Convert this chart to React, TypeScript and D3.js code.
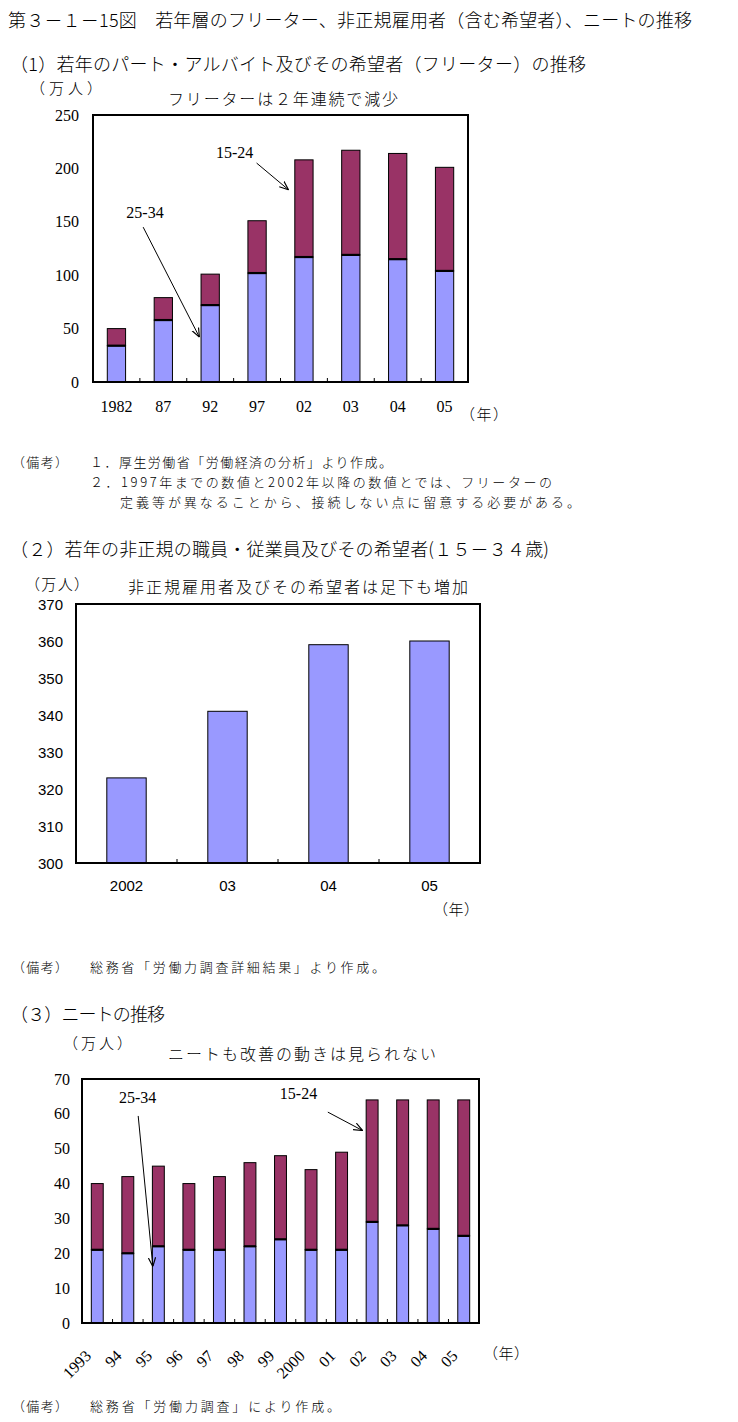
import React from "react";
import * as d3 from "d3";

const FONT_JP = "'Noto Sans CJK JP', 'Noto Sans', sans-serif";
const FONT_SERIF = "'Liberation Serif', 'DejaVu Serif', serif";
const FONT_SANS = "'Liberation Sans', 'DejaVu Sans', sans-serif";
const BLUE = "#9999FF";
const PURPLE = "#993366";

// (1) Freeter
const freeterYears = ["1982", "87", "92", "97", "02", "03", "04", "05"];
const freeterLower = [34, 58, 72, 102, 117, 119, 115, 104];
const freeterUpper = [16, 21, 29, 49, 91, 98, 99, 97];
const freeterTicks = [0, 50, 100, 150, 200, 250];

// (2) Non-regular
const nonRegYears = ["2002", "03", "04", "05"];
const nonRegValues = [323, 341, 359, 360];
const nonRegTicks = [300, 310, 320, 330, 340, 350, 360, 370];

// (3) NEET
const neetYears = ["1993", "94", "95", "96", "97", "98", "99", "2000", "01", "02", "03", "04", "05"];
const neetLower = [21, 20, 22, 21, 21, 22, 24, 21, 21, 29, 28, 27, 25];
const neetUpper = [19, 22, 23, 19, 21, 24, 24, 23, 28, 35, 36, 37, 39];
const neetTicks = [0, 10, 20, 30, 40, 50, 60, 70];

// annotations in data units (t = position in category steps, v = value)
const freeterNotes = [
  { label: "15-24", lt: 3.02, lv: 215, ft: 3.49, fv: 205, tt: 4.17, tv: 180 },
  { label: "25-34", lt: 1.11, lv: 159, ft: 1.07, fv: 145, tt: 2.27, tv: 42 },
];
const neetNotes = [
  { label: "25-34", lt: 1.82, lv: 64.7, ft: 1.84, fv: 59.4, tt: 2.32, tv: 16.2 },
  { label: "15-24", lt: 7.09, lv: 65.7, ft: 8.05, fv: 60.5, tt: 9.19, tv: 55.2 },
];

type Note = { label: string; lt: number; lv: number; ft: number; fv: number; tt: number; tv: number };

function Chart(props: {
  left: number; right: number; top: number; bottom: number;
  cats: string[]; lower: number[]; upper?: number[];
  domain: [number, number]; ticks: number[];
  tickFont: string; tickSize: number; labelGap: number;
  catY: number; rotate?: boolean; notes?: Note[];
}) {
  const { left, right, top, bottom, cats, lower, upper, domain, ticks, tickFont, tickSize, labelGap, catY, rotate, notes } = props;
  const x = d3.scaleBand<string>().domain(cats).range([left, right]).paddingInner(0.61).paddingOuter(0.305);
  const y = d3.scaleLinear().domain(domain).range([bottom, top]);
  const step = x.step();
  const tx = (t: number) => left + step * t;
  const base = domain[0];
  return (
    <g>
      {cats.map((c, i) => {
        const x0 = x(c)!;
        const w = x.bandwidth();
        const l = lower[i];
        const u = upper ? upper[i] : 0;
        return (
          <g key={c}>
            <rect x={x0} y={y(l)} width={w} height={y(base) - y(l)} fill={BLUE} stroke="#000" strokeWidth={1} />
            {upper && (
              <>
                <rect x={x0} y={y(l + u)} width={w} height={y(l) - y(l + u)} fill={PURPLE} stroke="#000" strokeWidth={1} />
                <line x1={x0} x2={x0 + w} y1={y(l)} y2={y(l)} stroke="#000" strokeWidth={2.2} />
              </>
            )}
          </g>
        );
      })}
      {d3.range(1, cats.length).map((i) => (
        <line key={"t" + i} x1={tx(i)} x2={tx(i)} y1={bottom} y2={bottom - 4} stroke="#000" strokeWidth={1} />
      ))}
      <rect x={left} y={top} width={right - left} height={bottom - top} fill="none" stroke="#000" strokeWidth={2} />
      {ticks.map((t) => (
        <text key={"y" + t} x={left - labelGap} y={y(t)} textAnchor="end" dominantBaseline="central"
          fontFamily={tickFont} fontSize={tickSize}>{t}</text>
      ))}
      {cats.map((c) => {
        const cx = x(c)! + x.bandwidth() / 2;
        if (rotate) {
          return (
            <text key={"x" + c} transform={`translate(${cx - 9},${catY}) rotate(-45)`} textAnchor="end"
              dominantBaseline="central" fontFamily={tickFont} fontSize={tickSize}>{c}</text>
          );
        }
        return (
          <text key={"x" + c} x={cx} y={catY} textAnchor="middle" dominantBaseline="central"
            fontFamily={tickFont} fontSize={tickSize}>{c}</text>
        );
      })}
      {(notes || []).map((n) => (
        <g key={n.label}>
          <text x={tx(n.lt)} y={y(n.lv)} textAnchor="middle" dominantBaseline="central"
            fontFamily={FONT_SERIF} fontSize={16}>{n.label}</text>
          <line x1={tx(n.ft)} y1={y(n.fv)} x2={tx(n.tt)} y2={y(n.tv)} stroke="#000" strokeWidth={1}
            markerEnd="url(#arrowHead)" />
        </g>
      ))}
    </g>
  );
}

function T(p: { x: number; y: number; w?: number; size: number; children: React.ReactNode }) {
  return (
    <text x={p.x} y={p.y} fontFamily={FONT_JP} fontSize={p.size} fontWeight={300} dominantBaseline="central"
      {...(p.w ? { textLength: p.w, lengthAdjust: "spacing" } : {})}>{p.children}</text>
  );
}

export default function App() {
  return (
    <svg width={738} height={1422} style={{ position: "absolute", left: 0, top: 0, background: "#fff" }}>
      <defs>
        <marker id="arrowHead" viewBox="0 0 10 10" refX={10} refY={5} markerWidth={9} markerHeight={9}
          orient="auto" markerUnits="userSpaceOnUse">
          <path d="M0,1 L10,5 L0,9" fill="none" stroke="#000" strokeWidth={1.3} />
        </marker>
      </defs>
      <rect x={0} y={0} width={738} height={1422} fill="#fff" />

      <T x={8} y={19} w={684} size={18}>第３－１－15図　若年層のフリーター、非正規雇用者（含む希望者）、ニートの推移</T>

      {/* (1) */}
      <T x={10} y={63} w={576} size={18}>（1）若年のパート・アルバイト及びその希望者（フリーター）の推移</T>
      <T x={30} y={87} w={72} size={15}>（万人）</T>
      <T x={168} y={98} w={230} size={16}>フリーターは２年連続で減少</T>
      <Chart left={93} right={468} top={115} bottom={382} cats={freeterYears} lower={freeterLower}
        upper={freeterUpper} domain={[0, 250]} ticks={freeterTicks} tickFont={FONT_SERIF} tickSize={16}
        labelGap={14} catY={406} notes={freeterNotes} />
      <T x={460} y={413} w={48} size={15}>（年）</T>

      <T x={12} y={461} w={56} size={13}>（備考）</T>
      <T x={90} y={461} w={302} size={13}>１．厚生労働省「労働経済の分析」より作成。</T>
      <T x={90} y={481} w={462} size={13}>２．1997年までの数値と2002年以降の数値とでは、フリーターの</T>
      <T x={120} y={501} w={460} size={13}>定義等が異なることから、接続しない点に留意する必要がある。</T>

      {/* (2) */}
      <T x={10} y={548} w={539} size={18}>（２）若年の非正規の職員・従業員及びその希望者(１５－３４歳)</T>
      <T x={25} y={583} w={64} size={15}>（万人）</T>
      <T x={128} y={586} w={340} size={16}>非正規雇用者及びその希望者は足下も増加</T>
      <Chart left={76} right={480} top={604} bottom={863} cats={nonRegYears} lower={nonRegValues}
        domain={[300, 370]} ticks={nonRegTicks} tickFont={FONT_SANS} tickSize={15}
        labelGap={13} catY={885} />
      <T x={433} y={908} w={46} size={15}>（年）</T>

      <T x={12} y={966} w={56} size={13}>（備考）</T>
      <T x={90} y={966} w={295} size={13}>総務省「労働力調査詳細結果」より作成。</T>

      {/* (3) */}
      <T x={10} y={1013} w={155} size={18}>（３）ニートの推移</T>
      <T x={63} y={1042} w={69} size={15}>（万人）</T>
      <T x={168} y={1053} w={268} size={16}>ニートも改善の動きは見られない</T>
      <Chart left={82} right={479} top={1079} bottom={1323} cats={neetYears} lower={neetLower}
        upper={neetUpper} domain={[0, 70]} ticks={neetTicks} tickFont={FONT_SERIF} tickSize={16}
        labelGap={12} catY={1353} rotate notes={neetNotes} />
      <T x={483} y={1352} w={46} size={15}>（年）</T>

      <T x={12} y={1405} w={56} size={13}>（備考）</T>
      <T x={90} y={1405} w={250} size={13}>総務省「労働力調査」により作成。</T>
    </svg>
  );
}
